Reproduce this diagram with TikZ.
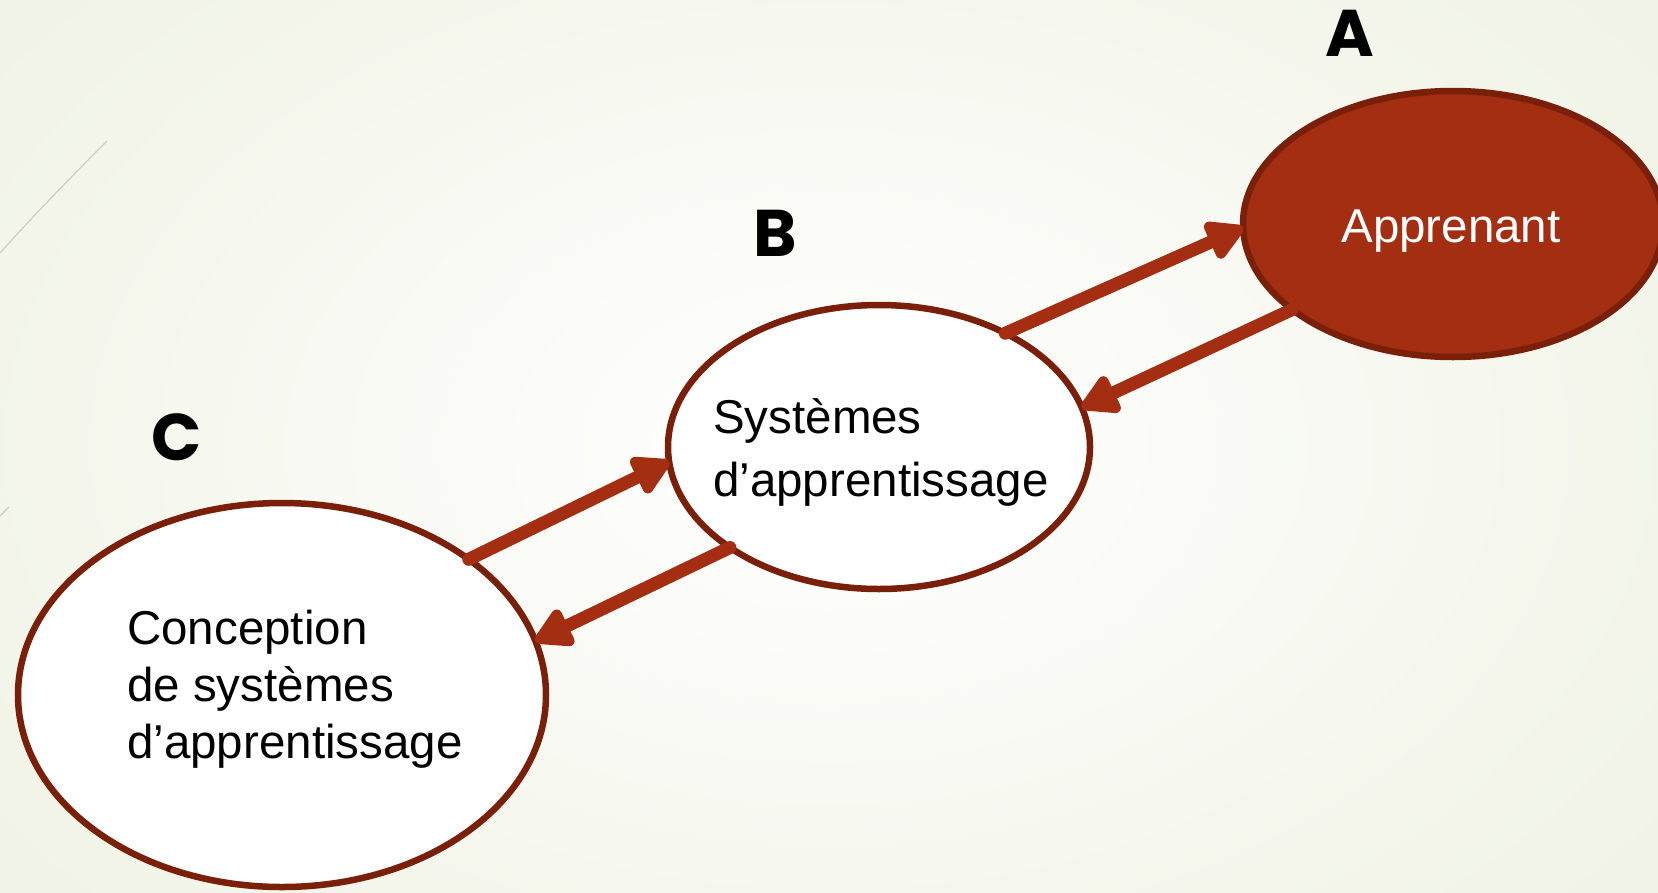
\documentclass[tikz,border=0pt]{standalone}
\usepackage{fontspec}
\setmainfont{Liberation Sans}
\newfontfamily\labelfont{Poppins}
\usetikzlibrary{shapes.geometric,arrows.meta}
\definecolor{rust}{RGB}{164,46,17}
\definecolor{rustdark}{RGB}{122,31,10}
\definecolor{bgcream}{RGB}{239,242,227}
\definecolor{decoline}{RGB}{205,205,192}
\tikzset{
  bubble/.style={ellipse, draw=rustdark, line width=6.5pt, inner sep=0pt, outer sep=0pt},
  conn/.style={rust, line width=13pt, line cap=round, -{Triangle[length=42pt,width=44pt,round=false]}},
  txt/.style={font=\fontsize{47.5}{63}\selectfont, inner sep=0pt, align=left},
  letter/.style={font=\labelfont\bfseries\fontsize{66}{66}\selectfont, inner sep=0pt}
}
\begin{document}
\begin{tikzpicture}[x=1pt,y=-1pt]
\useasboundingbox (0,0) rectangle (1658,892);
\clip (0,0) rectangle (1658,892);
\shade[inner color=white, outer color=bgcream] (-300,-300) rectangle (1958,1192);
\draw[decoline, line width=1.2pt] (107,141) .. controls (70,178) and (35,214) .. (0,253);
\draw[decoline, line width=1.2pt] (9,507) -- (0,516);

\node[bubble, fill=rust, minimum width=420pt, minimum height=266pt] (A) at (1453,224) {};
\node[bubble, fill=white, minimum width=422pt, minimum height=284pt] (B) at (879,447) {};
\node[bubble, fill=white, minimum width=528pt, minimum height=384pt] (C) at (282,695) {};

\node[txt, white, anchor=base] (tA) at (1451,242) {Apprenant};
\node[txt, anchor=base west] (tB) at (713,496) {Systèmes\\d’apprentissage};
\node[txt, anchor=base west, font=\fontsize{47.5}{57}\selectfont] (tC) at (127,758) {Conception\\de systèmes\\d’apprentissage};

\node[letter] (lA) at (1350,33) {A};
\node[letter] (lB) at (775,233) {B};
\node[letter] (lC) at (177,437) {C};

\draw[conn] (B.42) -- (A.181);
\draw[conn] (A.208) -- (B.11);
\draw[conn] (C.36) -- (B.184);
\draw[conn] (B.214) -- (C.12);
\end{tikzpicture}
\end{document}
